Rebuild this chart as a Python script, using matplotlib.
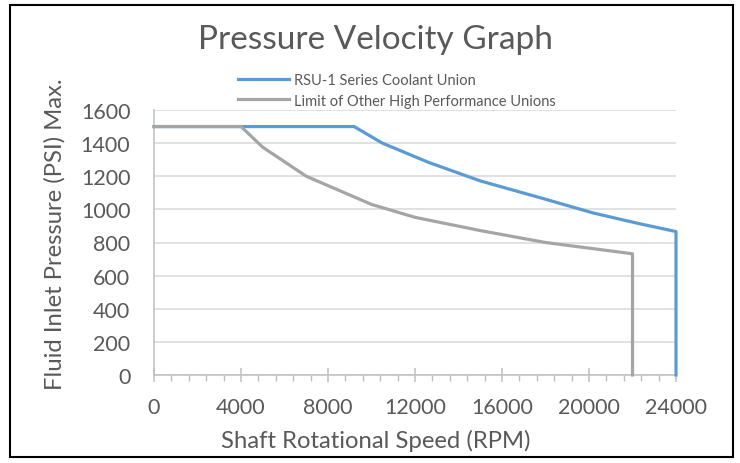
import matplotlib
matplotlib.use("Agg")
import matplotlib.pyplot as plt
from matplotlib.patches import Rectangle
from matplotlib.ticker import MultipleLocator

plt.rcParams['font.family'] = ['Lato', 'DejaVu Sans']

# data
rsu_rpm = [0, 9200, 10500, 12600, 15000, 17900, 20200, 22300, 24000, 24000]
rsu_psi = [1500, 1500, 1400, 1285, 1172, 1065, 978, 914, 866, 0]
other_rpm = [0, 4000, 5000, 7000, 10000, 12000, 15000, 18000, 22000, 22000]
other_psi = [1500, 1500, 1375, 1200, 1030, 952, 872, 800, 732, 0]

x_ticks = [0, 4000, 8000, 12000, 16000, 20000, 24000]
y_ticks = [0, 200, 400, 600, 800, 1000, 1200, 1400, 1600]

blue = "#5B9BD5"
gray = "#A5A5A5"
text_col = "#595959"
axis_col = "#BFBFBF"
grid_col = "#D9D9D9"

fig = plt.figure(figsize=(7.40, 4.64), dpi=100)
ax = fig.add_axes([154 / 740, 1 - 376 / 464, 522 / 740, 265 / 464])

ax.plot(rsu_rpm, rsu_psi, color=blue, lw=2.3, label="RSU-1 Series Coolant Union",
        zorder=3, clip_on=False)
ax.plot(other_rpm, other_psi, color=gray, lw=2.3, label="Limit of Other High Performance Unions",
        zorder=3, clip_on=False)

ax.set_xlim(0, 24000)
ax.set_ylim(0, 1600)
ax.set_xticks(x_ticks)
ax.set_yticks(y_ticks)
ax.xaxis.set_minor_locator(MultipleLocator(800))
ax.grid(axis="y", color=grid_col, lw=1.1, zorder=0)
ax.set_axisbelow(True)

for s in ["top", "right"]:
    ax.spines[s].set_visible(False)
for s in ["left", "bottom"]:
    ax.spines[s].set_color(axis_col)
    ax.spines[s].set_linewidth(1.1)

ax.tick_params(axis="x", which="major", direction="inout", length=10, width=1.1,
               color=axis_col, labelcolor=text_col, labelsize=15.5, pad=11)
ax.tick_params(axis="x", which="minor", direction="out", length=4, width=1.0, color=axis_col)
ax.tick_params(axis="y", which="major", length=0, labelcolor=text_col, labelsize=15.5, pad=17)

# axis titles and chart title placed like the reference
fig.text(376 / 740, 1 - 448 / 464, "Shaft Rotational Speed (RPM)", ha="center", va="baseline",
         fontsize=17.2, color=text_col)
fig.text(55 / 740, 1 - 234 / 464, "Fluid Inlet Pressure (PSI) Max.", ha="center", va="center",
         rotation=90, fontsize=17.2, color=text_col)
fig.text(375 / 740, 1 - 49 / 464, "Pressure Velocity Graph", ha="center", va="baseline",
         fontsize=24, color=text_col)

fig.legend(loc="upper left", bbox_to_anchor=(238 / 740, 1 - 74 / 464), frameon=False,
           fontsize=10.5, labelcolor=text_col, handlelength=3.5, handletextpad=0.35,
           borderpad=0, borderaxespad=0, labelspacing=0.45)

fig.patches.append(Rectangle((10 / 740, 6 / 464), 723 / 740, 452 / 464, transform=fig.transFigure,
                             fill=False, edgecolor="black", lw=1.5))

fig.savefig("out.png", dpi=100)
